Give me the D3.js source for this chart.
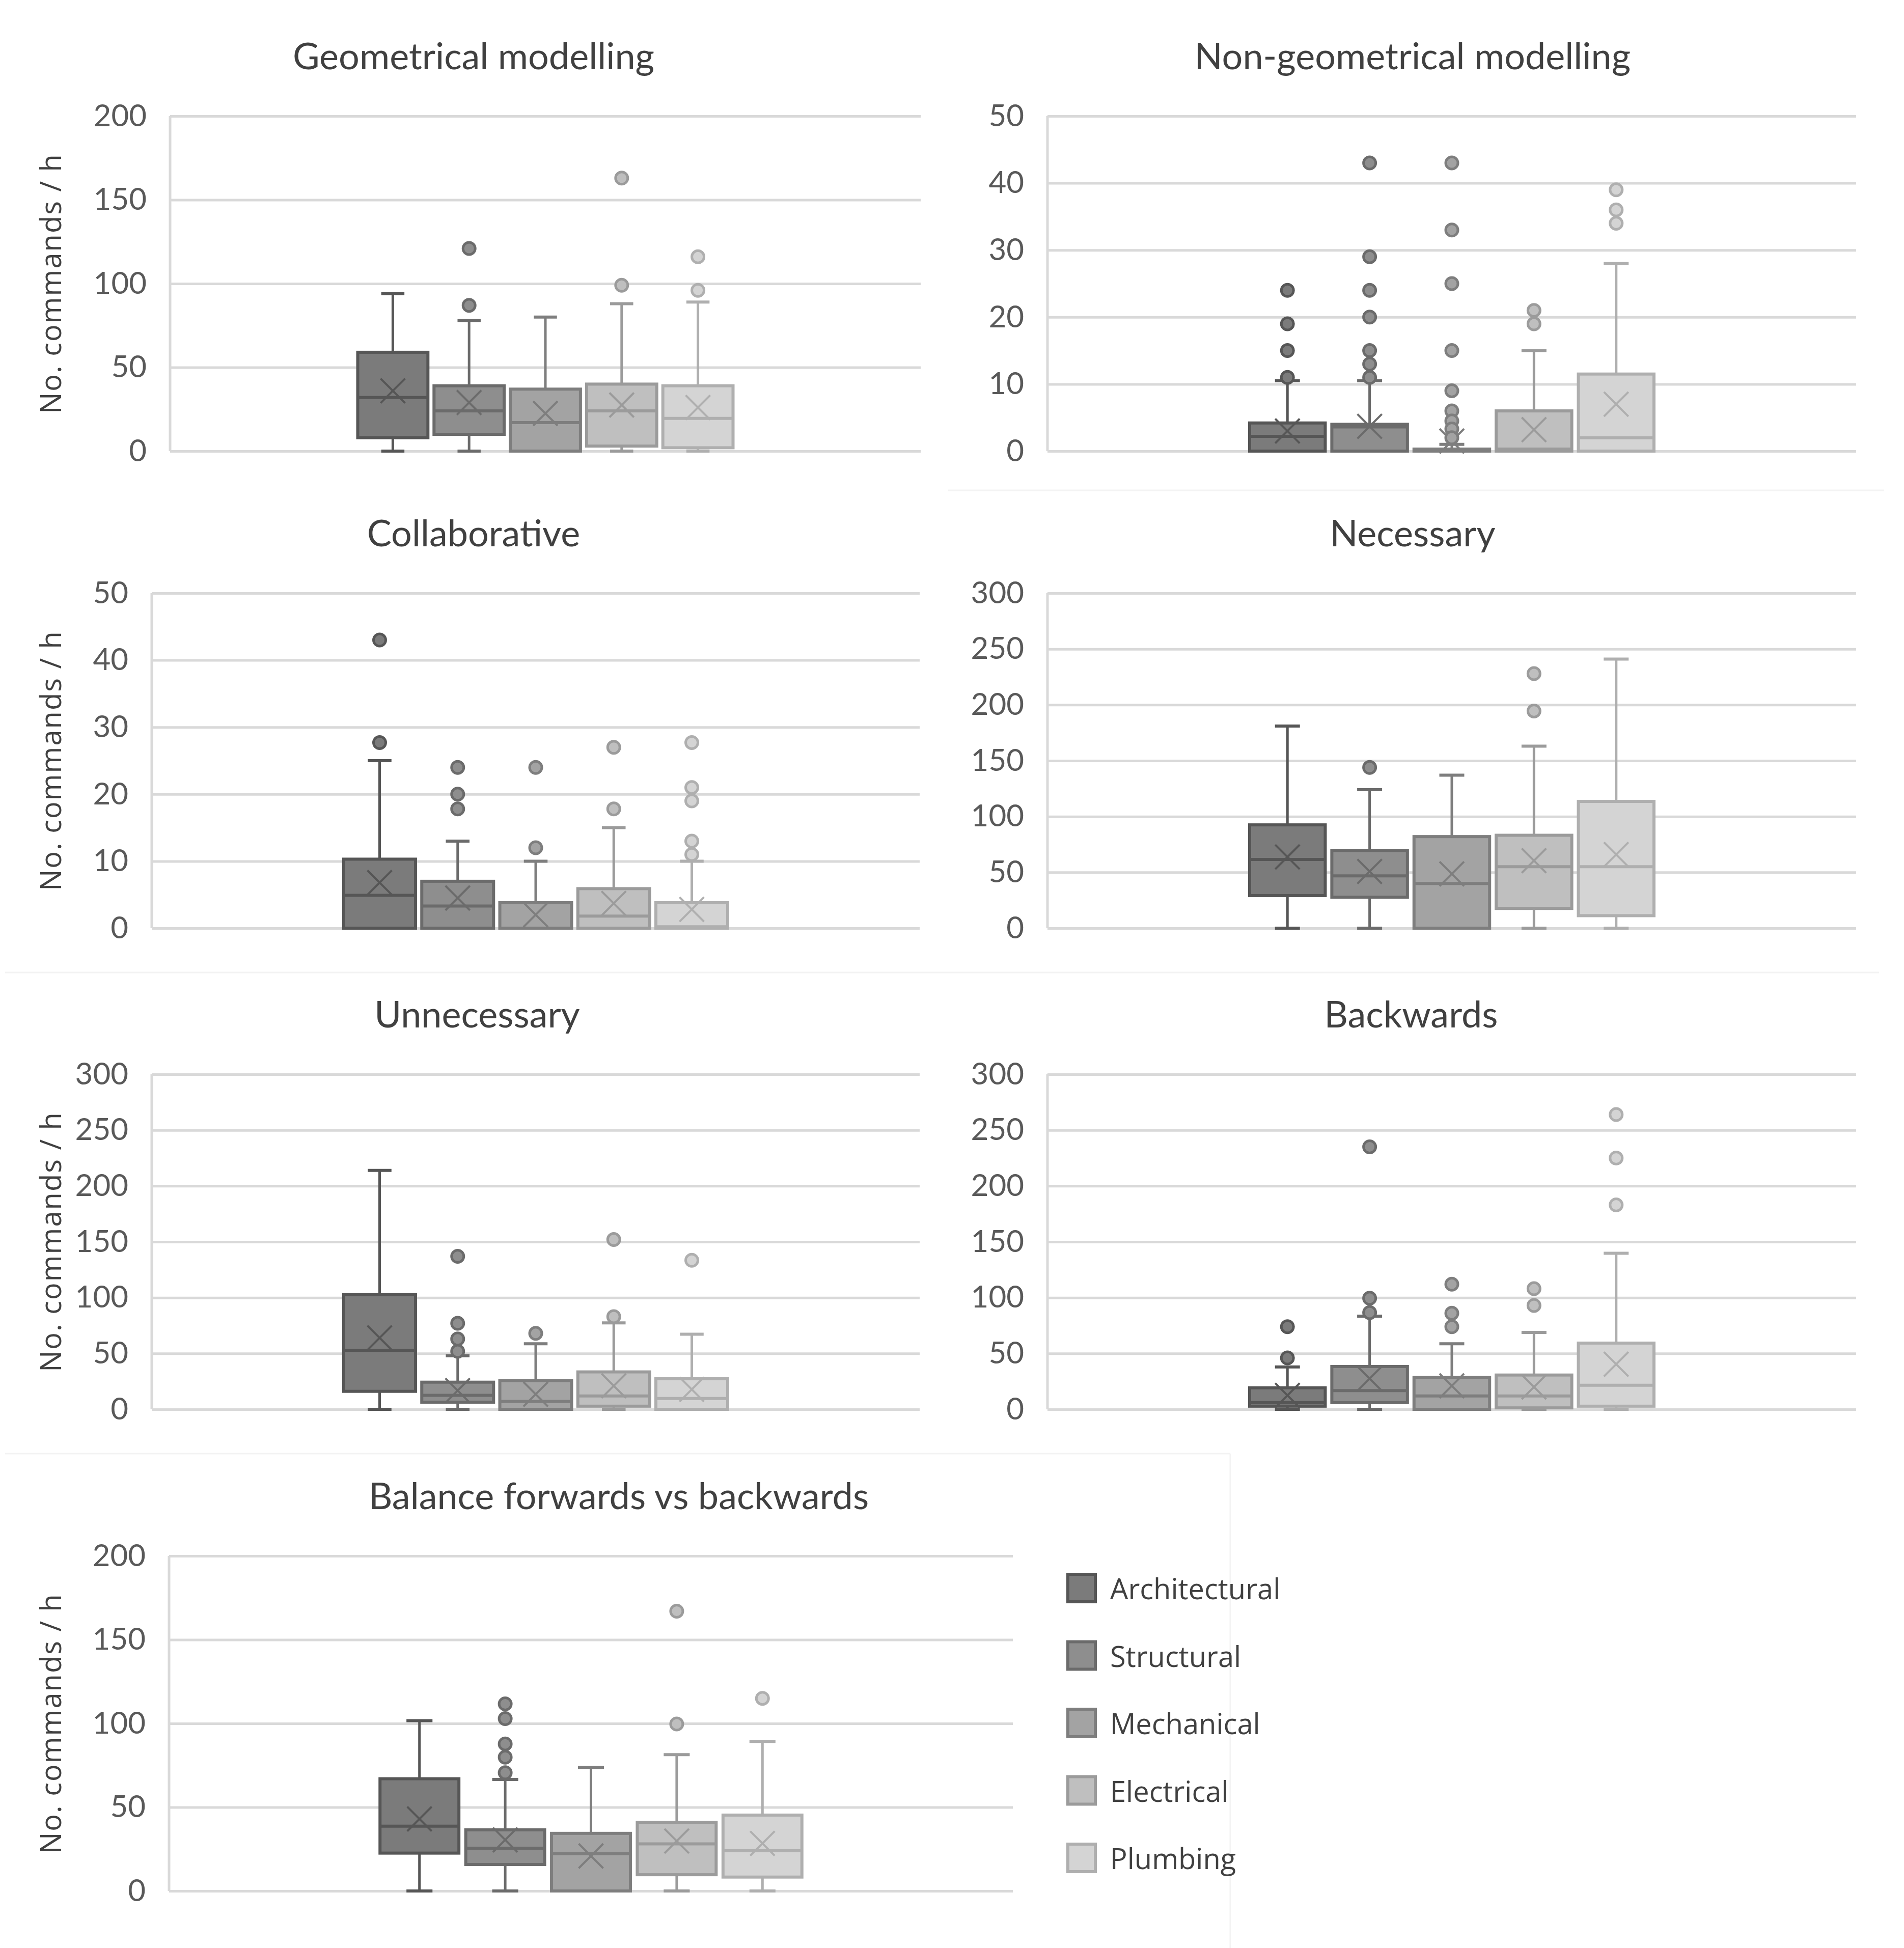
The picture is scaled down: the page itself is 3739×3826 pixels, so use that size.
<!DOCTYPE html>
<html>
<head>
<meta charset="utf-8">
<script src="https://cdn.jsdelivr.net/npm/d3@7"></script>
<style>
  html, body { margin: 0; padding: 0; background: #ffffff; }
  svg { display: block; }
</style>
</head>
<body>
<script>
// ---------------- DATA ----------------
const categories = ["Architectural", "Structural", "Mechanical", "Electrical", "Plumbing"];
const panelTitles = ["Geometrical modelling", "Non-geometrical modelling", "Collaborative", "Necessary", "Unnecessary", "Backwards", "Balance forwards vs backwards"];
const yAxisTitle = "No. commands / h";
const yMax  = [200, 50, 50, 300, 300, 300, 200];
const yStep = [50, 10, 10, 50, 50, 50, 50];

// statistic arrays: [panel][category]
const whiskerLow = [
  [0, 0, 0, 0, 0], [0, 0, 0, 0, 0], [0, 0, 0, 0, 0], [0, 0, 0, 0, 0],
  [0, 0, 0, 0, 0], [0, 0, 0, 0, 0], [0, 0, 0, 0, 0]
];
const q1 = [
  [8, 10, 0, 3, 2],
  [0, 0, 0, 0, 0],
  [0, 0, 0, 0, 0],
  [29.2, 27.7, 0, 17.7, 11.2],
  [16.1, 6.4, 0, 2.8, 0],
  [2.8, 6, 0, 1.3, 2.8],
  [22.6, 15.8, 0, 9.7, 8.3]
];
const median = [
  [32, 24, 17, 24, 19.5],
  [2.2, 3.6, 0, 0.3, 2],
  [4.9, 3.3, 0, 1.8, 0.2],
  [61.6, 46.9, 40, 55.1, 55.1],
  [52.9, 12.5, 7.1, 12, 9.7],
  [6, 16.8, 12, 12, 21.5],
  [38.7, 25.5, 22.3, 28.1, 24.1]
];
const q3 = [
  [59, 39, 37, 40, 39],
  [4.2, 4, 0.3, 6, 11.5],
  [10.3, 7, 3.8, 5.9, 3.8],
  [92.5, 69.6, 82, 83.2, 113.5],
  [102.7, 24.3, 25.8, 33.5, 27.5],
  [19.3, 38.3, 28.6, 30.7, 59.3],
  [67, 36.5, 34.4, 41, 45.3]
];
const whiskerHigh = [
  [94, 78, 80, 88, 89],
  [10.5, 10.5, 1, 15, 28],
  [25, 13, 10, 15, 10],
  [181, 124, 137, 163, 241],
  [214, 48, 58.7, 77.4, 67.3],
  [38, 83.4, 58.7, 68.8, 139.7],
  [101.7, 66.6, 73.8, 81.4, 89.3]
];
const mean = [
  [36, 29, 22.5, 27.5, 26],
  [3, 3.7, 1.5, 3.2, 7],
  [6.8, 4.5, 2, 3.7, 2.8],
  [63.8, 50.8, 48.6, 60.5, 65.9],
  [64, 16.8, 13.5, 21, 17.8],
  [12.5, 27.5, 21, 20, 40.4],
  [43, 30.5, 20.9, 29.8, 28.4]
];
const outliers = [
  [[], [121, 87], [], [163, 99], [116, 96]],
  [[24, 19, 15, 11], [43, 29, 24, 20, 15, 13, 11], [43, 33, 25, 15, 9, 6, 4.5, 3.3, 2], [21, 19], [39, 36, 34]],
  [[43, 27.7], [24, 20, 17.8], [24, 12], [27, 17.8], [27.7, 21, 19, 13, 11]],
  [[], [144], [], [228, 194.5], []],
  [[], [137, 77, 63, 52], [68], [152, 83], [133.5]],
  [[74, 46], [235, 99.5, 86.6], [112, 86, 74], [108, 93], [264, 225, 183]],
  [[], [111.7, 102.9, 87.8, 79.9, 70.6], [], [167, 99.7], [115]]
];

// ---------------- LAYOUT / STYLE ----------------
const W = 3739, H = 3826;
const plotLeft   = [334, 2057, 298, 2057, 298, 2057, 332];
const plotRight  = [1808, 3645, 1806, 3645, 1806, 3645, 1989];
const plotTop    = [228, 228, 1165, 1165, 2110, 2110, 3056];
const plotHeight = 658;
const titleX     = [930, 2774, 930, 2774, 937, 2771, 1215];
const showYTitle = [true, false, true, false, true, false, true];
// faint chart-area edges [x1, y1, x2, y2]
const edges = [
  [1862, 963, 3700, 963],
  [10, 1910, 3690, 1910],
  [10, 2855, 2416, 2855],
  [2416, 2855, 2416, 3826]
];
const fills   = ["#7b7b7b", "#8e8e8e", "#a3a3a3", "#bfbfbf", "#d4d4d4"];
const strokes = ["#565656", "#6b6b6b", "#7e7e7e", "#9b9b9b", "#afafaf"];
const color  = d3.scaleOrdinal().domain(categories).range(fills);
const scolor = d3.scaleOrdinal().domain(categories).range(strokes);

const numFont = "Lato, 'Open Sans', 'Liberation Sans', sans-serif";
const labFont = "'Open Sans', 'Noto Sans', 'DejaVu Sans', sans-serif";

const svg = d3.select("body").append("svg")
  .attr("width", W).attr("height", H)
  .attr("viewBox", `0 0 ${W} ${H}`);
svg.append("rect").attr("width", W).attr("height", H).attr("fill", "#ffffff");

svg.append("g").selectAll("line").data(edges).join("line")
  .attr("x1", d => d[0]).attr("y1", d => d[1]).attr("x2", d => d[2]).attr("y2", d => d[3])
  .attr("stroke", "#f3f3f3").attr("stroke-width", 3);

panelTitles.forEach((title, p) => {
  const left = plotLeft[p], right = plotRight[p], top = plotTop[p], bottom = top + plotHeight;
  const g = svg.append("g");
  const y = d3.scaleLinear().domain([0, yMax[p]]).range([bottom, top]);
  const ticks = d3.range(0, yMax[p] + yStep[p] / 2, yStep[p]);

  const axis = d3.axisLeft(y).tickValues(ticks).tickSize(-(right - left)).tickPadding(46).tickFormat(d3.format("d"));
  const ax = g.append("g").attr("transform", `translate(${left},0)`).call(axis);
  ax.select(".domain").remove();
  ax.selectAll(".tick line").attr("stroke", "#d9d9d9").attr("stroke-width", 5);
  ax.selectAll(".tick text").attr("fill", "#595959").attr("font-family", numFont).attr("font-size", 60);
  g.append("line").attr("x1", left).attr("x2", left).attr("y1", top).attr("y2", bottom)
    .attr("stroke", "#d9d9d9").attr("stroke-width", 5);

  g.append("text").attr("x", titleX[p]).attr("y", top - 92)
    .attr("text-anchor", "middle").attr("fill", "#404040")
    .attr("font-family", numFont).attr("font-size", 72).text(title);

  if (showYTitle[p]) {
    const cy = (top + bottom) / 2;
    g.append("text").attr("transform", `translate(98,${cy}) rotate(-90)`)
      .attr("text-anchor", "middle").attr("dominant-baseline", "central")
      .attr("fill", "#404040").attr("font-family", labFont).attr("font-size", 56)
      .attr("letter-spacing", 2).text(yAxisTitle);
  }

  const cx = (left + right) / 2, gw = (right - left) / 2;
  const x = d3.scaleBand().domain(categories).range([cx - gw / 2, cx + gw / 2]).paddingInner(0.08).paddingOuter(0);
  const bw = x.bandwidth();
  const capW = bw * 0.33;

  categories.forEach((c, i) => {
    const bx = x(c), mx = bx + bw / 2;
    const sc = scolor(c), fc = color(c);
    const cg = g.append("g");
    cg.append("line").attr("x1", mx).attr("x2", mx).attr("y1", y(q3[p][i])).attr("y2", y(whiskerHigh[p][i]))
      .attr("stroke", sc).attr("stroke-width", 5);
    cg.append("line").attr("x1", mx).attr("x2", mx).attr("y1", y(q1[p][i])).attr("y2", y(whiskerLow[p][i]))
      .attr("stroke", sc).attr("stroke-width", 5);
    [whiskerHigh[p][i], whiskerLow[p][i]].forEach(v => {
      cg.append("line").attr("x1", mx - capW / 2).attr("x2", mx + capW / 2).attr("y1", y(v)).attr("y2", y(v))
        .attr("stroke", sc).attr("stroke-width", 6);
    });
    cg.append("rect").attr("x", bx).attr("width", bw)
      .attr("y", y(q3[p][i])).attr("height", Math.max(2, y(q1[p][i]) - y(q3[p][i])))
      .attr("fill", fc).attr("stroke", sc).attr("stroke-width", 6);
    cg.append("line").attr("x1", bx).attr("x2", bx + bw).attr("y1", y(median[p][i])).attr("y2", y(median[p][i]))
      .attr("stroke", sc).attr("stroke-width", 6);
    const my = y(mean[p][i]), s = 24;
    cg.append("path").attr("d", `M${mx - s},${my - s}L${mx + s},${my + s}M${mx - s},${my + s}L${mx + s},${my - s}`)
      .attr("stroke", sc).attr("stroke-width", 4).attr("fill", "none");
    cg.selectAll("circle").data(outliers[p][i]).join("circle")
      .attr("cx", mx).attr("cy", d => y(d)).attr("r", 12)
      .attr("fill", fc).attr("stroke", sc).attr("stroke-width", 5);
  });
});

const legend = svg.append("g");
const legY = d3.scalePoint().domain(categories).range([3119, 3649]);
categories.forEach(c => {
  const yy = legY(c);
  legend.append("rect").attr("x", 2097).attr("y", yy - 27).attr("width", 54).attr("height", 54)
    .attr("fill", color(c)).attr("stroke", scolor(c)).attr("stroke-width", 6);
  legend.append("text").attr("x", 2180).attr("y", yy).attr("dominant-baseline", "central")
    .attr("fill", "#404040").attr("font-family", labFont).attr("font-size", 56).text(c);
});
</script>
</body>
</html>
